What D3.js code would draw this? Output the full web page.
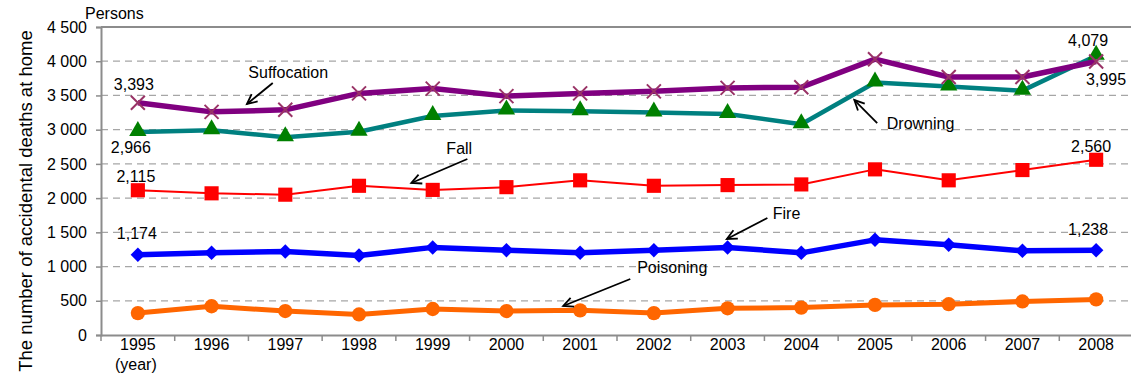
<!DOCTYPE html>
<html>
<head>
<meta charset="utf-8">
<script src="https://cdn.jsdelivr.net/npm/d3@7"></script>
<style>
  html, body { margin: 0; padding: 0; background: #fff; }
  svg { display: block; font-family: "Liberation Sans", Arial, sans-serif; }
</style>
</head>
<body>
<svg id="chart" width="1131" height="383"></svg>
<script>
// Accidental deaths at home by cause, 1995-2008 (persons)
const years = [1995, 1996, 1997, 1998, 1999, 2000, 2001, 2002, 2003, 2004, 2005, 2006, 2007, 2008];
const suffocation = [3393, 3260, 3290, 3530, 3600, 3490, 3530, 3560, 3610, 3620, 4030, 3770, 3770, 3995];
const drowning    = [2966, 2990, 2890, 2970, 3200, 3280, 3270, 3250, 3230, 3080, 3690, 3630, 3570, 4079];
const fall        = [2115, 2070, 2050, 2180, 2120, 2160, 2260, 2180, 2190, 2200, 2420, 2260, 2410, 2560];
const fire        = [1174, 1200, 1220, 1160, 1280, 1240, 1200, 1240, 1280, 1200, 1390, 1320, 1230, 1238];
const poisoning   = [320, 420, 350, 300, 380, 350, 360, 320, 390, 400, 440, 450, 490, 520];
const yTicks = [0, 500, 1000, 1500, 2000, 2500, 3000, 3500, 4000, 4500];

const svg = d3.select("#chart");
const plotLeft = 101, plotRight = 1133, plotTop = 27, plotBottom = 335, frameRight = 1131;

const x = d3.scaleBand().domain(years).range([plotLeft, plotRight]).padding(0);
const y = d3.scaleLinear().domain([0, 4500]).range([plotBottom, plotTop]);
const step = x.step();
const cx = yr => x(yr) + x.bandwidth() / 2;
// fractional position along the year axis (0 = first year)
const xAt = i => x(years[0]) + x.bandwidth() / 2 + i * step;

const spaced = d3.formatLocale({ decimal: ".", thousands: " ", grouping: [3], currency: ["", ""] }).format(",");
const comma = d3.format(",");

// grid lines
svg.append("g").selectAll("line")
  .data(yTicks.filter(v => v > 0 && v < 4500))
  .join("line")
  .attr("x1", plotLeft).attr("x2", frameRight)
  .attr("y1", d => y(d)).attr("y2", d => y(d))
  .attr("stroke", "#a6a6a6").attr("stroke-width", 1.2)
  .attr("stroke-dasharray", "7,5");

// top frame line
svg.append("line")
  .attr("x1", plotLeft).attr("x2", frameRight)
  .attr("y1", y(4500)).attr("y2", y(4500))
  .attr("stroke", "#8c8c8c").attr("stroke-width", 2);

// y axis
const yAxis = svg.append("g")
  .attr("transform", `translate(${plotLeft},0)`)
  .call(d3.axisLeft(y).tickValues(yTicks).tickSize(5).tickPadding(9).tickFormat(spaced));
yAxis.select(".domain").attr("stroke", "#8c8c8c").attr("stroke-width", 2);
yAxis.selectAll(".tick line").attr("stroke", "#8c8c8c").attr("stroke-width", 1.5);
yAxis.selectAll(".tick text").attr("font-size", 16).attr("fill", "#000")
  .attr("font-family", "Liberation Sans, Arial, sans-serif");

// x axis
const xAxis = svg.append("g")
  .attr("transform", `translate(0,${plotBottom})`)
  .call(d3.axisBottom(x).tickSize(0).tickPadding(4));
xAxis.select(".domain").attr("stroke", "#8c8c8c").attr("stroke-width", 2);
xAxis.selectAll(".tick text").attr("font-size", 16).attr("fill", "#000")
  .attr("font-family", "Liberation Sans, Arial, sans-serif");
// category boundary ticks
svg.append("g").selectAll("line")
  .data(d3.range(years.length + 1))
  .join("line")
  .attr("x1", i => plotLeft + i * step).attr("x2", i => plotLeft + i * step)
  .attr("y1", plotBottom).attr("y2", plotBottom + 6)
  .attr("stroke", "#8c8c8c").attr("stroke-width", 1.5);

svg.append("text")
  .attr("x", cx(years[0]) - 2).attr("y", plotBottom + 35)
  .attr("text-anchor", "middle").attr("font-size", 16)
  .text("(year)");

svg.append("text")
  .attr("x", 85).attr("y", 19)
  .attr("font-size", 16)
  .text("Persons");

svg.append("text")
  .attr("transform", "translate(32,201) rotate(-90)")
  .attr("text-anchor", "middle").attr("font-size", 18.5)
  .text("The number of accidental deaths at home");

// series definitions
const series = [
  { name: "Poisoning", values: poisoning, line: "#ff6600", width: 5, marker: "circle", fill: "#ff6600" },
  { name: "Fire", values: fire, line: "#0000ff", width: 5.5, marker: "diamond", fill: "#0000ff" },
  { name: "Fall", values: fall, line: "#ff0000", width: 2, marker: "square", fill: "#ff0000" },
  { name: "Drowning", values: drowning, line: "#008080", width: 4.5, marker: "triangle", fill: "#008000" },
  { name: "Suffocation", values: suffocation, line: "#800080", width: 5.5, marker: "x", fill: "#993366" }
];

const lineGen = d3.line().x((d, i) => cx(years[i])).y(d => y(d));
const symbols = {
  circle: d3.symbol().type(d3.symbolCircle).size(160),
  diamond: d3.symbol().type(d3.symbolSquare).size(105),
  square: d3.symbol().type(d3.symbolSquare).size(200),
  triangle: d3.symbol().type(d3.symbolTriangle).size(130)
};

series.forEach(s => {
  const g = svg.append("g").attr("class", "series");
  g.append("path")
    .attr("d", lineGen(s.values))
    .attr("fill", "none").attr("stroke", s.line)
    .attr("stroke-width", s.width).attr("stroke-linejoin", "round");
  const pts = g.selectAll("g.pt").data(s.values).join("g")
    .attr("class", "pt")
    .attr("transform", (d, i) => `translate(${cx(years[i])},${y(d)})`);
  if (s.marker === "x") {
    pts.append("path")
      .attr("d", "M-7,-7L7,7M-7,7L7,-7")
      .attr("stroke", s.fill).attr("stroke-width", 2).attr("fill", "none");
  } else {
    pts.append("path")
      .attr("d", symbols[s.marker]())
      .attr("transform", s.marker === "diamond" ? "rotate(45)" : s.marker === "triangle" ? "translate(0,-1)" : null)
      .attr("fill", s.fill);
  }
});

// value labels at first and last years
const valueLabels = [
  { values: suffocation, i: 0, dx: -4, dy: -13 },
  { values: drowning, i: 0, dx: -7, dy: 21 },
  { values: fall, i: 0, dx: -2, dy: -8 },
  { values: fire, i: 0, dx: -1, dy: -16 },
  { values: drowning, i: 13, dx: -8, dy: -10 },
  { values: suffocation, i: 13, dx: 10, dy: 23 },
  { values: fall, i: 13, dx: -5, dy: -8 },
  { values: fire, i: 13, dx: -8, dy: -15 }
];
svg.append("g").selectAll("text")
  .data(valueLabels)
  .join("text")
  .attr("x", d => cx(years[d.i]) + d.dx)
  .attr("y", d => y(d.values[d.i]) + d.dy)
  .attr("text-anchor", "middle").attr("font-size", 16)
  .text(d => comma(d.values[d.i]));

// callouts naming each series: arrow from tail to tip, label near tail
const callouts = [
  { text: "Suffocation", tip: [1.48, 3375], tail: [1.83, 3682], label: [2.04, 3842], anchor: "middle" },
  { text: "Fall", tip: [3.71, 2221], tail: [4.47, 2571], label: [4.36, 2732], anchor: "middle" },
  { text: "Poisoning", tip: [5.77, 424], tail: [6.68, 818], label: [7.25, 993], anchor: "middle" },
  { text: "Fire", tip: [7.99, 1403], tail: [8.54, 1709], label: [8.8, 1782], anchor: "middle" },
  { text: "Drowning", tip: [9.72, 3433], tail: [10.03, 3097], label: [10.16, 3097], anchor: "start" }
];
const cg = svg.append("g");
callouts.forEach(c => {
  const x1 = xAt(c.tail[0]), y1 = y(c.tail[1]);
  const x2 = xAt(c.tip[0]), y2 = y(c.tip[1]);
  cg.append("line")
    .attr("x1", x1).attr("y1", y1).attr("x2", x2).attr("y2", y2)
    .attr("stroke", "#000").attr("stroke-width", 1.8);
  const ang = Math.atan2(y2 - y1, x2 - x1);
  const len = 11, spread = 0.45;
  const p = a => [x2 - len * Math.cos(ang + a), y2 - len * Math.sin(ang + a)];
  const a1 = p(spread), a2 = p(-spread);
  cg.append("path")
    .attr("d", `M${a1[0]},${a1[1]}L${x2},${y2}L${a2[0]},${a2[1]}`)
    .attr("fill", "none").attr("stroke", "#000").attr("stroke-width", 1.8);
  cg.append("text")
    .attr("x", xAt(c.label[0])).attr("y", y(c.label[1]))
    .attr("dy", "0.35em")
    .attr("text-anchor", c.anchor).attr("font-size", 16)
    .text(c.text);
});
</script>
</body>
</html>
